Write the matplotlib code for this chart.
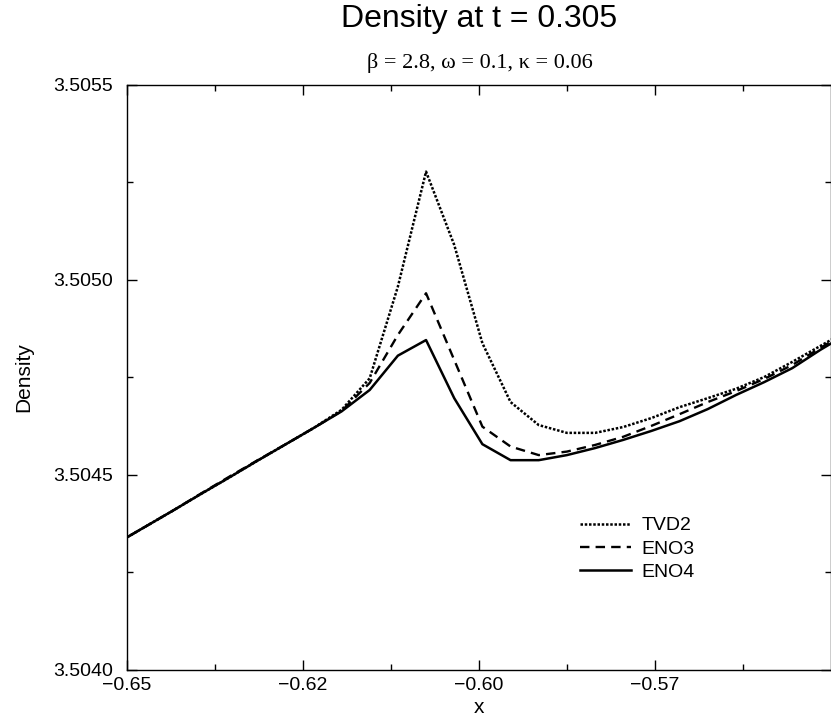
import matplotlib
matplotlib.use('Agg')
import matplotlib.pyplot as plt

plt.rcParams.update({'font.family': ['Liberation Sans', 'DejaVu Sans'], 'font.size': 14,
                     'axes.unicode_minus': True})

# grid nodes (x) and density values
x = [-0.6515, -0.6475, -0.6435, -0.6395, -0.6355, -0.6315, -0.6275, -0.6235, -0.6195,
     -0.6155, -0.6115, -0.6075, -0.6035, -0.5995, -0.5955, -0.5915, -0.5875, -0.5835,
     -0.5795, -0.5755, -0.5715, -0.5675, -0.5635, -0.5595, -0.5555, -0.5515, -0.5475]

tvd2 = [3.504324, 3.504366, 3.504408, 3.504451, 3.504493, 3.504536, 3.504578, 3.504620, 3.504667,
        3.504748, 3.504983, 3.505278, 3.505090, 3.504838, 3.504687, 3.504628, 3.504608, 3.504608,
        3.504623, 3.504646, 3.504674, 3.504697, 3.504721, 3.504751, 3.504790, 3.504831, 3.504872]

eno3 = [3.504324, 3.504366, 3.504408, 3.504452, 3.504495, 3.504537, 3.504578, 3.504620, 3.504664,
        3.504736, 3.504859, 3.504966, 3.504795, 3.504624, 3.504573, 3.504551, 3.504560, 3.504577,
        3.504598, 3.504626, 3.504656, 3.504687, 3.504715, 3.504746, 3.504782, 3.504826, 3.504869]

eno4 = [3.504324, 3.504366, 3.504408, 3.504451, 3.504493, 3.504536, 3.504578, 3.504620, 3.504663,
        3.504718, 3.504806, 3.504846, 3.504697, 3.504579, 3.504538, 3.504538, 3.504551, 3.504569,
        3.504590, 3.504613, 3.504638, 3.504669, 3.504705, 3.504738, 3.504774, 3.504821, 3.504864]

xticks = [-0.65, -0.625, -0.60, -0.575]
xticklabels = ['\u22120.65', '\u22120.62', '\u22120.60', '\u22120.57']
xminor = [-0.6375, -0.6125, -0.5875, -0.5625]
yticks = [3.5040, 3.5045, 3.5050, 3.5055]
yticklabels = ['3.5040', '3.5045', '3.5050', '3.5055']
yminor = [3.50425, 3.50475, 3.50525]

fig = plt.figure(figsize=(8.31, 7.24), dpi=100)
ax = fig.add_axes([0.1525, 0.0746, 0.8475, 0.808])

ax.plot(x, tvd2, color='black', lw=1.8, linestyle=(0, (1, 0.7)), label='TVD2')
ax.plot(x, eno3, color='black', lw=1.7, linestyle=(0, (4, 2.6)), label='ENO3')
ax.plot(x, eno4, color='black', lw=1.8, linestyle='-', label='ENO4')

ax.set_xlim(-0.65, -0.55)
ax.set_ylim(3.5040, 3.5055)
ax.set_xticks(xticks, xticklabels)
ax.set_xticks(xminor, minor=True)
ax.set_yticks(yticks, yticklabels)
ax.set_yticks(yminor, minor=True)
ax.tick_params(which='both', direction='in', top=True, right=True, width=1.0, labelsize=14)
ax.tick_params(which='major', length=7)
ax.tick_params(which='minor', length=4.5)
ax.tick_params(axis='y', pad=10)
ax.tick_params(axis='x', pad=5)
for s in ax.spines.values():
    s.set_linewidth(1.0)

ax.set_xlabel('x', fontsize=15, labelpad=3)
ax.set_ylabel('Density', fontsize=15, labelpad=14)

fig.text(0.577, 0.974, 'Density at t = 0.305', ha='center', va='center', fontsize=23)
fig.text(0.577, 0.913, '\u03b2 = 2.8, \u03c9 = 0.1, \u03ba = 0.06', ha='center', va='center',
         fontsize=16, family=['Liberation Serif', 'DejaVu Serif'])

ax.legend(loc='upper left', bbox_to_anchor=(0.644, 0.262), frameon=False, fontsize=14,
          handlelength=2.6, handletextpad=0.55, labelspacing=0.3, borderpad=0, borderaxespad=0)

fig.savefig('out.png', dpi=100)
